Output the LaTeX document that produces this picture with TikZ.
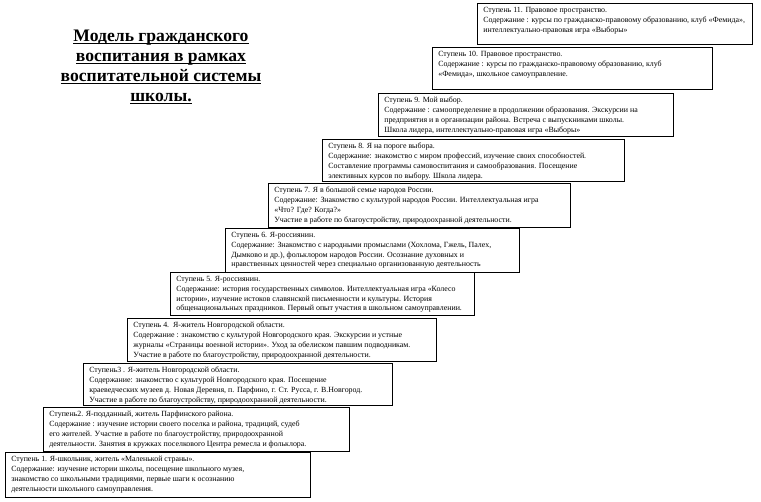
\documentclass[tikz,border=0pt]{standalone}
\usepackage{fontspec}
\setmainfont{Liberation Serif}
\usetikzlibrary{shadows}
\newcommand\myul[1]{\setbox0\hbox{#1}\rlap{\rule[-2.9pt]{\wd0}{1.6pt}}\box0}
\newcommand\stepcontent[3]{\parbox[c][#2pt][t]{#1pt}{\raggedright #3}}
\tikzset{
  stepnode/.style={draw=black, line width=0.6pt, fill=white, anchor=north west,
    inner xsep=6pt, inner ysep=4pt, font=\fontsize{7.9}{9.8}\selectfont,
    drop shadow={shadow xshift=1.1pt, shadow yshift=-1.1pt, opacity=1, fill=black}},
  titlenode/.style={align=center, font=\fontsize{17.6}{20}\selectfont\bfseries}
}
\begin{document}
\begin{tikzpicture}[x=1pt,y=-1pt]
\useasboundingbox[fill=white] (0,0) rectangle (761,502);
\node[titlenode] (title) at (161,67) {\myul{Модель гражданского}\\ \myul{воспитания в рамках}\\ \myul{воспитательной системы}\\ \myul{школы.}};
\node[stepnode] (s11) at (477,3) {\stepcontent{263}{33}{Ступень 11. Правовое пространство.\\Содержание : курсы по гражданско-правовому образованию, клуб «Фемида»,\\интеллектуально-правовая игра «Выборы»}};
\node[stepnode] (s10) at (432,47) {\stepcontent{268}{34}{Ступень 10. Правовое пространство.\\Содержание : курсы по гражданско-правовому образованию, клуб\\«Фемида», школьное самоуправление.}};
\node[stepnode] (s9) at (378,93) {\stepcontent{283}{35}{Ступень 9. Мой выбор.\\Содержание : самоопределение в продолжении образования. Экскурсии на\\предприятия и в организации района. Встреча с выпускниками школы.\\Школа лидера, интеллектуально-правовая игра «Выборы»}};
\node[stepnode] (s8) at (322,139) {\stepcontent{290}{34}{Ступень 8. Я на пороге выбора.\\Содержание: знакомство с миром профессий, изучение своих способностей.\\Составление программы самовоспитания и самообразования. Посещение\\элективных курсов по выбору. Школа лидера.}};
\node[stepnode] (s7) at (268,183) {\stepcontent{290}{36}{Ступень 7. Я в большой семье народов России.\\Содержание: Знакомство с культурой народов России. Интеллектуальная игра\\«Что? Где? Когда?»\\Участие в работе по благоустройству, природоохранной деятельности.}};
\node[stepnode] (s6) at (225,228) {\stepcontent{282}{36}{Ступень 6. Я-россиянин.\\Содержание: Знакомство с народными промыслами (Хохлома, Гжель, Палех,\\Дымково и др.), фольклором народов России. Осознание духовных и\\нравственных ценностей через специально организованную деятельность}};
\node[stepnode] (s5) at (170,272) {\stepcontent{292}{35}{Ступень 5. Я-россиянин.\\Содержание: история государственных символов. Интеллектуальная игра «Колесо\\истории», изучение истоков славянской письменности и культуры. История\\общенациональных праздников. Первый опыт участия в школьном самоуправлении.}};
\node[stepnode] (s4) at (127,318) {\stepcontent{297}{35}{Ступень 4.\ \ Я-житель Новгородской области.\\Содержание : знакомство с культурой Новгородского края. Экскурсии и устные\\журналы «Страницы военной истории». Уход за обелиском павшим подводникам.\\Участие в работе по благоустройству, природоохранной деятельности.}};
\node[stepnode] (s3) at (83,363) {\stepcontent{297}{34}{Ступень3 . Я-житель Новгородской области.\\Содержание: знакомство с культурой Новгородского края. Посещение\\краеведческих музеев д. Новая Деревня, п. Парфино, г. Ст. Русса, г. В.Новгород.\\Участие в работе по благоустройству, природоохранной деятельности.}};
\node[stepnode] (s2) at (43,407) {\stepcontent{294}{36}{Ступень2. Я-подданный, житель Парфинского района.\\Содержание : изучение истории своего поселка и района, традиций, судеб\\его жителей. Участие в работе по благоустройству, природоохранной\\деятельности. Занятия в кружках поселкового Центра ремесла и фольклора.}};
\node[stepnode] (s1) at (5,452) {\stepcontent{293}{37}{Ступень 1. Я-школьник, житель «Маленькой страны».\\Содержание: изучение истории школы, посещение школьного музея,\\знакомство со школьными традициями, первые шаги к осознанию\\деятельности школьного самоуправления.}};
\end{tikzpicture}
\end{document}
